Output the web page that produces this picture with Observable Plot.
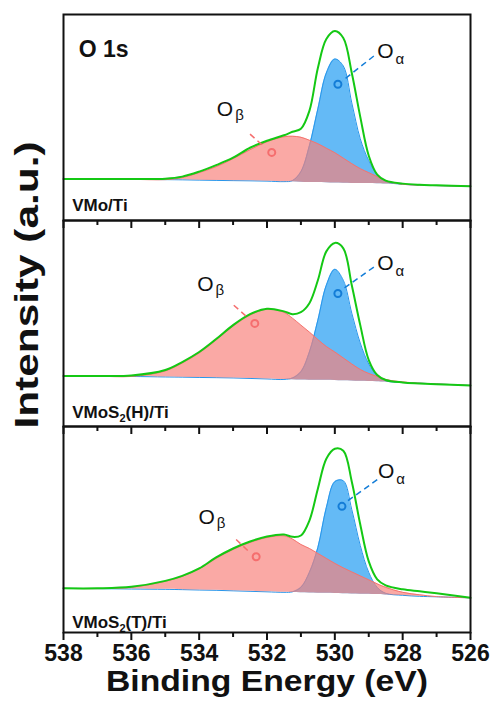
<!DOCTYPE html>
<html>
<head>
<meta charset="utf-8">
<script src="https://cdn.jsdelivr.net/npm/d3@7"></script>
<script src="https://cdn.jsdelivr.net/npm/@observablehq/plot@0.6"></script>
<style>
  body { margin: 0; background: #fff; }
  #chart svg { display: block; }
</style>
</head>
<body>
<div id="chart"></div>
<script>
// O 1s XPS spectra of three samples: Shirley background, O-alpha and O-beta
// fitted components, and the fitted envelope. Intensities in arbitrary units.
const energy = [538, 537, 536, 535, 534.5, 534, 533.5, 533, 532.5, 532, 531.5, 531.25, 531,
  530.75, 530.5, 530.25, 530, 529.75, 529.5, 529.25, 529, 528.75, 528.5, 528, 527.5, 527, 526];

const samples = ["VMo/Ti", "VMoS2(H)/Ti", "VMoS2(T)/Ti"];
const peakNames = ["Oα", "Oβ"];
const tickValues = [538, 536, 534, 532, 530, 528, 526];
const minorTickValues = [537, 535, 533, 531, 529, 527];

// VMo/Ti
const vmoBackground = [41.5, 41.5, 41.3, 41, 40.8, 40.5, 40.2, 40, 39.8, 39.5, 39, 38.8, 38.5,
  38.2, 38, 37.8, 37.5, 37.3, 37.2, 37.1, 37, 36.8, 36.6, 36.3, 35.5, 35, 34.3];
const vmoOBeta = [41.5, 41.5, 41.3, 41, 43, 48, 54, 62, 71, 79, 84, 84.5, 83.5,
  80.5, 77, 72.5, 68, 62.5, 57, 52, 48, 44, 40, 36.3, 35.5, 35, 34.3];
const vmoOAlpha = [41.5, 41.5, 41.3, 41, 40.8, 40.5, 40.2, 40, 39.8, 39.5, 39, 40, 49,
  75, 112, 148, 162, 155, 118, 82, 60, 46, 39, 36.3, 35.5, 35, 34.3];
const vmoEnvelope = [41.7, 41.7, 41.7, 42, 44, 49, 55.5, 63, 73, 80, 85.5, 89, 92,
  110, 153, 182, 190, 183, 148, 104, 65, 46, 40, 37, 35.8, 35.3, 34.3];

// VMoS2(H)/Ti
const hBackground = [50.7, 50.5, 50.2, 49.7, 49.5, 49.2, 49, 48.7, 48.2, 47.7, 47.2, 47, 46.7,
  46.5, 46.4, 46.3, 46.2, 45.9, 45.7, 45.4, 45.2, 45, 44.7, 44.2, 43.5, 42.7, 41.2];
const hOBeta = [50.7, 50.5, 50.2, 55.7, 63.7, 73.7, 86.7, 100.7, 111.7, 117.7, 114.5, 108.7, 101.7,
  94.7, 87.2, 80.2, 74.7, 68.7, 62.7, 57.2, 53.2, 50.2, 47.2, 44.7, 43.5, 42.7, 41.2];
const hOAlpha = [50.7, 50.5, 50.2, 49.7, 49.5, 49.2, 49, 48.7, 48.2, 47.7, 47.2, 48.7, 55,
  74.7, 106.7, 141.7, 157.7, 146.7, 113.7, 83.7, 62.7, 50.7, 45.7, 44.2, 43.5, 42.7, 41.2];
const hEnvelope = [50.7, 50.7, 51.2, 56.7, 64.7, 74.7, 87.7, 101.7, 112.7, 118.2, 115.5, 112.7, 114.7,
  123.7, 146.7, 175.7, 184.2, 178.7, 141.7, 101.7, 66.7, 51.7, 46.7, 44.2, 43.2, 42.4, 41.2];

// VMoS2(T)/Ti
const tBackground = [44.3, 44, 43.6, 43.3, 43, 42.6, 42.3, 41.8, 41.3, 40.8, 40.3, 40.1, 39.9,
  39.7, 39.5, 39.3, 39.1, 38.9, 38.7, 38.5, 38.3, 38, 37.7, 37.1, 36.3, 35.8, 34.8];
const tOBeta = [44.3, 44, 45.3, 51.3, 56.3, 63.8, 74.3, 83.3, 90.3, 95.3, 97, 93.8, 88.3,
  84.3, 79.3, 74.3, 69.3, 64.8, 60.8, 56.8, 52.8, 48.8, 45.3, 40.3, 37.8, 36, 34.8];
const tOAlpha = [44.3, 44, 43.6, 43.3, 43, 42.6, 42.3, 41.8, 41.3, 40.8, 40.3, 40.8, 45.3,
  60.3, 85.3, 125.3, 151.3, 152.3, 123.3, 87.3, 60.3, 45.3, 39.3, 37.3, 36.3, 35.8, 34.8];
const tEnvelope = [44.3, 44.3, 45.8, 51.8, 56.8, 64.3, 75.3, 84.3, 91.3, 96.3, 98.3, 96, 97.3,
  112.3, 144.3, 174.3, 184.3, 182.3, 151.3, 108.3, 71.3, 53.3, 47.3, 43.3, 41.3, 39.3, 34.8];

// Peak annotations (energy in eV, intensity in a.u.)
const peakLabels = [
  {sample: samples[0], peak: peakNames[0], energy: 528.75, intensity: 170},
  {sample: samples[0], peak: peakNames[1], energy: 533.48, intensity: 111.7},
  {sample: samples[1], peak: peakNames[0], energy: 528.75, intensity: 164.2},
  {sample: samples[1], peak: peakNames[1], energy: 534.06, intensity: 142.6},
  {sample: samples[2], peak: peakNames[0], energy: 528.73, intensity: 161.7},
  {sample: samples[2], peak: peakNames[1], energy: 534.02, intensity: 115.8}
];
const peakMarkers = [
  {sample: samples[0], peak: peakNames[0], energy: 529.91, intensity: 136.7},
  {sample: samples[0], peak: peakNames[1], energy: 531.86, intensity: 68.3},
  {sample: samples[1], peak: peakNames[0], energy: 529.91, intensity: 133.4},
  {sample: samples[1], peak: peakNames[1], energy: 532.36, intensity: 103.4},
  {sample: samples[2], peak: peakNames[0], energy: 529.79, intensity: 126.6},
  {sample: samples[2], peak: peakNames[1], energy: 532.32, intensity: 76}
];
const leaders = [
  {sample: samples[0], peak: peakNames[0], e1: 528.85, i1: 165, e2: 529.78, i2: 140},
  {sample: samples[0], peak: peakNames[1], e1: 532.50, i1: 86.7, e2: 532.06, i2: 73.3},
  {sample: samples[1], peak: peakNames[0], e1: 528.85, i1: 160, e2: 529.74, i2: 138.4},
  {sample: samples[1], peak: peakNames[1], e1: 532.98, i1: 121.7, e2: 532.54, i2: 108.4},
  {sample: samples[2], peak: peakNames[0], e1: 528.75, i1: 153.3, e2: 529.64, i2: 131.6},
  {sample: samples[2], peak: peakNames[1], e1: 532.91, i1: 93.3, e2: 532.50, i2: 80}
];
const sampleTags = [
  {sample: samples[0], energy: 538, intensity: 15.1},
  {sample: samples[1], energy: 538, intensity: 13.5},
  {sample: samples[2], energy: 538, intensity: 10.1}
];

const spectra = [
  {sample: samples[0], background: vmoBackground, oBeta: vmoOBeta, oAlpha: vmoOAlpha, envelope: vmoEnvelope},
  {sample: samples[1], background: hBackground, oBeta: hOBeta, oAlpha: hOAlpha, envelope: hEnvelope},
  {sample: samples[2], background: tBackground, oBeta: tOBeta, oAlpha: tOAlpha, envelope: tEnvelope}
];
const rows = spectra.flatMap(s => energy.map((e, i) => ({
  sample: s.sample, energy: e,
  background: s.background[i], oBeta: s.oBeta[i], oAlpha: s.oAlpha[i], envelope: s.envelope[i]
})));

const FONT = "Arial, 'Liberation Sans', Helvetica, sans-serif";
const BLUE = "rgb(100,186,246)";
const BLUE_LINE = "rgb(40,150,235)";
const BLUE_MARK = "rgb(20,125,215)";
const PINK = "rgb(248,128,122)";
const PINK_LINE = "rgb(245,115,110)";
const PINK_MARK = "rgb(245,110,110)";
const GREEN = "rgb(20,200,20)";
const curve = "catmull-rom";
const isAlpha = d => d.peak === peakNames[0];
const isBeta = d => d.peak === peakNames[1];

const chart = Plot.plot({
  width: 491,
  height: 708,
  marginLeft: 63,
  marginRight: 21,
  marginTop: 13,
  marginBottom: 75,
  style: {fontFamily: FONT, background: "#fff", overflow: "visible"},
  x: {domain: [538, 526]},
  y: {domain: [0, 206.67], axis: null},
  fy: {domain: samples, padding: 0, axis: null, label: null},
  marks: [
    // fitted components
    Plot.areaY(rows, {x: "energy", y1: "background", y2: "oAlpha", fy: "sample", fill: BLUE, curve}),
    Plot.lineY(rows, {x: "energy", y: "oAlpha", fy: "sample", stroke: BLUE_LINE, strokeWidth: 1, curve}),
    Plot.areaY(rows, {x: "energy", y1: "background", y2: "oBeta", fy: "sample", fill: PINK, fillOpacity: 0.68, curve}),
    Plot.lineY(rows, {x: "energy", y: "oBeta", fy: "sample", stroke: PINK_LINE, strokeWidth: 1, curve}),
    // fitted envelope
    Plot.lineY(rows, {x: "energy", y: "envelope", fy: "sample", stroke: GREEN, strokeWidth: 2, curve}),

    // peak call-outs
    Plot.link(leaders.filter(isAlpha), {x1: "e1", y1: "i1", x2: "e2", y2: "i2", fy: "sample",
      stroke: BLUE_MARK, strokeWidth: 1.5, strokeDasharray: "6 4"}),
    Plot.link(leaders.filter(isBeta), {x1: "e1", y1: "i1", x2: "e2", y2: "i2", fy: "sample",
      stroke: PINK_MARK, strokeWidth: 1.5, strokeDasharray: "6 4"}),
    Plot.dot(peakMarkers.filter(isAlpha), {x: "energy", y: "intensity", fy: "sample", r: 3.5,
      stroke: BLUE_MARK, strokeWidth: 2, fill: "none"}),
    Plot.dot(peakMarkers.filter(isBeta), {x: "energy", y: "intensity", fy: "sample", r: 3.5,
      stroke: PINK_MARK, strokeWidth: 2, fill: "none"}),
    Plot.text(peakLabels, {x: "energy", y: "intensity", fy: "sample", text: "peak",
      textAnchor: "start", fontSize: 21, fill: "#111"}),

    // sample names and core level
    Plot.text(sampleTags, {x: "energy", y: "intensity", fy: "sample", text: "sample", dx: 8.7,
      textAnchor: "start", fontSize: 17, fontWeight: "bold", fill: "#111"}),
    Plot.text(["O 1s"], {fy: () => samples[0], frameAnchor: "top-left", dx: 15.3, dy: 26,
      textAnchor: "start", fontSize: 23, fontWeight: "bold", fill: "#111"}),

    // panel frames and ticks
    Plot.frame({stroke: "#111", strokeWidth: 2}),
    Plot.axisX(tickValues, {tickSize: 8, tickFormat: () => "", label: null, facetAnchor: null,
      stroke: "#111", strokeWidth: 2}),
    Plot.axisX(minorTickValues, {tickSize: 5, tickFormat: () => "", label: null, facetAnchor: null,
      stroke: "#111", strokeWidth: 2}),
    Plot.text(tickValues, {x: d => d, fy: () => samples[2], frameAnchor: "bottom", dy: 28.5,
      fontSize: 23, fontWeight: "bold", fill: "#111"}),

    // axis titles
    Plot.text(["Binding Energy (eV)"], {fy: () => samples[2], frameAnchor: "bottom", dy: 58.5,
      fontSize: 30, fontWeight: "bold", fill: "#111"}),
    // rotated title drawn from its first letter upward, starting below the middle panel's centre
    Plot.text(["Intensity (a.u.)"], {fy: () => samples[1], frameAnchor: "left", dx: -36, dy: 105,
      rotate: -90, textAnchor: "start", fontSize: 33, fontWeight: "bold", fill: "#111"})
  ]
});

// Typeset subscripts (O-alpha, O-beta, MoS2) as lowered, smaller tspans.
const SVGNS = "http://www.w3.org/2000/svg";
function subscript(textEl, head, sub, tail, size, shift, gap) {
  textEl.textContent = head;
  const s = document.createElementNS(SVGNS, "tspan");
  s.setAttribute("font-size", size);
  s.setAttribute("dy", shift);
  if (gap) s.setAttribute("dx", gap);
  s.textContent = sub;
  textEl.appendChild(s);
  if (tail) {
    const t = document.createElementNS(SVGNS, "tspan");
    t.setAttribute("dy", -shift);
    t.textContent = tail;
    textEl.appendChild(t);
  }
}
chart.querySelectorAll("text").forEach(el => {
  const s = el.textContent;
  let m;
  if ((m = s.match(/^(O)([αβ])$/))) subscript(el, m[1], m[2], "", 15, m[2] === "α" ? 6 : 4, 2);
  else if ((m = s.match(/^(VMoS)(2)(.*)$/))) subscript(el, m[1], m[2], m[3], 11, 4, 0);
  else if (s === "Binding Energy (eV)") {
    el.setAttribute("textLength", 322);
    el.setAttribute("lengthAdjust", "spacingAndGlyphs");
  } else if (s === "Intensity (a.u.)") {
    el.setAttribute("textLength", 287);
    el.setAttribute("lengthAdjust", "spacingAndGlyphs");
  }
});

document.getElementById("chart").appendChild(chart);
</script>
</body>
</html>
